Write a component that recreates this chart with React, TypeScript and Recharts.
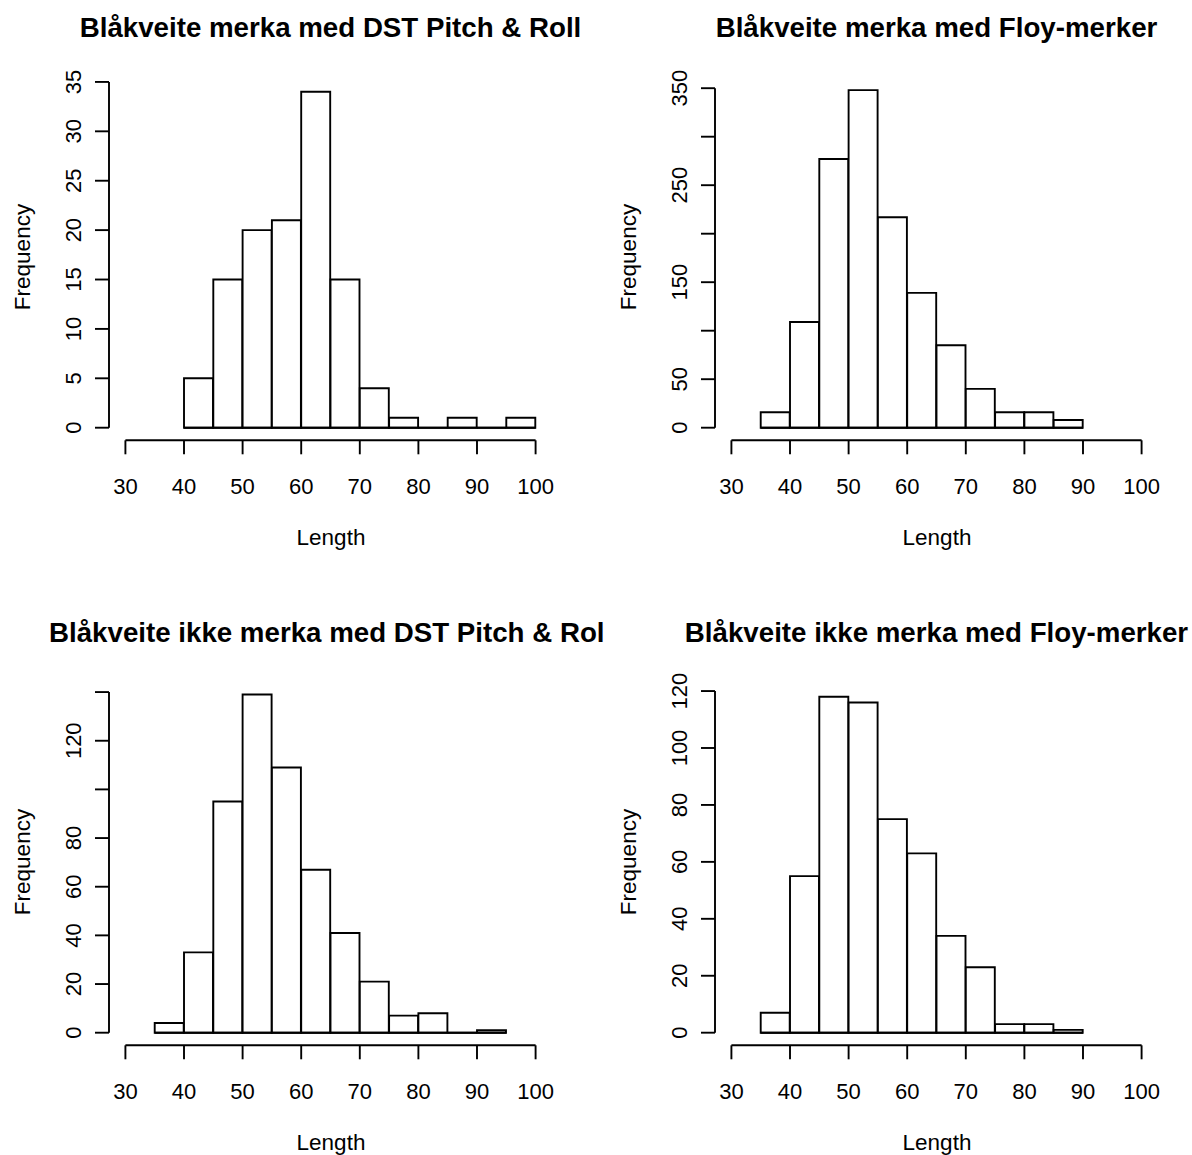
import React from 'react';
import { ComposedChart, Bar, XAxis, YAxis, ReferenceLine } from 'recharts';

// bin starts (5 units wide) and counts
const binWidth = 5;

const p1Starts = [40, 45, 50, 55, 60, 65, 70, 75, 80, 85, 90, 95];
const p1Counts = [5, 15, 20, 21, 34, 15, 4, 1, 0, 1, 0, 1];

const p2Starts = [35, 40, 45, 50, 55, 60, 65, 70, 75, 80, 85];
const p2Counts = [16, 109, 277, 348, 217, 139, 85, 40, 16, 16, 8];

const p3Starts = [35, 40, 45, 50, 55, 60, 65, 70, 75, 80, 85, 90];
const p3Counts = [4, 33, 95, 139, 109, 67, 41, 21, 7, 8, 0, 1];

const p4Starts = [35, 40, 45, 50, 55, 60, 65, 70, 75, 80, 85];
const p4Counts = [7, 55, 118, 116, 75, 63, 34, 23, 3, 3, 1];

const xTicks = [30, 40, 50, 60, 70, 80, 90, 100];

const p1YTicks = [0, 5, 10, 15, 20, 25, 30, 35];
const p1YLabels = [0, 5, 10, 15, 20, 25, 30, 35];
const p2YTicks = [0, 50, 100, 150, 200, 250, 300, 350];
const p2YLabels = [0, 50, 150, 250, 350];
const p3YTicks = [0, 20, 40, 60, 80, 100, 120, 140];
const p3YLabels = [0, 20, 40, 60, 80, 120];
const p4YTicks = [0, 20, 40, 60, 80, 100, 120];
const p4YLabels = [0, 20, 40, 60, 80, 100, 120];

const FONT = '"Liberation Sans", Arial, Helvetica, sans-serif';
const LW = 1.9;
const PW = 606;
const PH = 605;
const X_DOMAIN: [number, number] = [27.2, 102.8];

const HistBar = (props: any) => {
  const { x, y, width, height } = props;
  if (x == null || y == null) return <g />;
  return (
    <path
      d={`M${x},${y + height}V${y}H${x + width}V${y + height}Z`}
      fill="#fff"
      stroke="#000"
      strokeWidth={LW}
    />
  );
};

type PanelProps = {
  title: string;
  titleStart?: number;
  starts: number[];
  counts: number[];
  yTicks: number[];
  yLabels: number[];
  yDomain: [number, number];
  left: number;
  top: number;
};

const Panel = ({ title, titleStart, starts, counts, yTicks, yLabels, yDomain, left, top }: PanelProps) => {
  const data = starts.map((s, i) => ({ mid: s + binWidth / 2, count: counts[i] }));
  const lastEdge = starts[starts.length - 1] + binWidth;

  const xTick = (p: any) => (
    <text x={p.x} y={p.y + 40} textAnchor="middle" fontSize={22} fontFamily={FONT} fill="#000">
      {p.payload.value}
    </text>
  );

  const yTick = (p: any) => {
    if (!yLabels.includes(p.payload.value)) return <g />;
    return (
      <text
        x={p.x}
        y={p.y}
        transform={`rotate(-90, ${p.x}, ${p.y})`}
        textAnchor="middle"
        fontSize={22}
        fontFamily={FONT}
        fill="#000"
      >
        {p.payload.value}
      </text>
    );
  };

  return (
    <div style={{ position: 'absolute', left, top, width: PW, height: PH }}>
      <ComposedChart
        width={PW}
        height={PH}
        data={data}
        margin={{ top: 60, right: 54, bottom: 163.7, left: 108 }}
        barCategoryGap={0}
        barGap={0}
      >
        <XAxis
          type="number"
          dataKey="mid"
          domain={X_DOMAIN}
          allowDataOverflow
          ticks={xTicks}
          interval={0}
          height={1}
          axisLine={false}
          tickSize={14}
          tickMargin={0}
          tickLine={{ stroke: '#000', strokeWidth: LW }}
          tick={xTick}
        />
        <YAxis
          type="number"
          domain={yDomain}
          allowDataOverflow
          ticks={yTicks}
          interval={0}
          width={1}
          axisLine={false}
          tickSize={14}
          tickMargin={14}
          tickLine={{ stroke: '#000', strokeWidth: LW }}
          tick={yTick}
        />
        <Bar dataKey="count" shape={HistBar} isAnimationActive={false} />
        <ReferenceLine
          segment={[{ x: starts[0], y: 0 }, { x: lastEdge, y: 0 }]}
          stroke="#000"
          strokeWidth={LW}
          ifOverflow="visible"
        />
        <ReferenceLine
          segment={[{ x: xTicks[0], y: yDomain[0] }, { x: xTicks[xTicks.length - 1], y: yDomain[0] }]}
          stroke="#000"
          strokeWidth={LW}
          ifOverflow="visible"
        />
        <ReferenceLine
          segment={[{ x: X_DOMAIN[0], y: yTicks[0] }, { x: X_DOMAIN[0], y: yTicks[yTicks.length - 1] }]}
          stroke="#000"
          strokeWidth={LW}
          ifOverflow="visible"
        />
      </ComposedChart>
      <svg
        width={PW}
        height={PH}
        style={{ position: 'absolute', left: 0, top: 0, pointerEvents: 'none' }}
      >
        <text
          x={titleStart ?? 330.5}
          y={37}
          textAnchor={titleStart != null ? 'start' : 'middle'}
          fontSize={27.7}
          fontWeight="bold"
          fontFamily={FONT}
          fill="#000"
        >
          {title}
        </text>
        <text x={331} y={545} textAnchor="middle" fontSize={22.5} fontFamily={FONT} fill="#000">
          Length
        </text>
        <text
          x={29.5}
          y={257}
          transform="rotate(-90, 29.5, 257)"
          textAnchor="middle"
          fontSize={22.5}
          fontFamily={FONT}
          fill="#000"
        >
          Frequency
        </text>
      </svg>
    </div>
  );
};

export default function App() {
  return (
    <div
      style={{
        position: 'absolute',
        left: 0,
        top: 0,
        width: 1192,
        height: 1155,
        overflow: 'hidden',
        background: '#fff',
      }}
    >
      <Panel
        title="Blåkveite merka med DST Pitch & Roll"
        starts={p1Starts}
        counts={p1Counts}
        yTicks={p1YTicks}
        yLabels={p1YLabels}
        yDomain={[-1.275, 37.22]}
        left={0}
        top={0}
      />
      <Panel
        title="Blåkveite merka med Floy-merker"
        starts={p2Starts}
        counts={p2Counts}
        yTicks={p2YTicks}
        yLabels={p2YLabels}
        yDomain={[-12.99, 379.07]}
        left={606}
        top={0}
      />
      <Panel
        title="Blåkveite ikke merka med DST Pitch & Rol"
        titleStart={49}
        starts={p3Starts}
        counts={p3Counts}
        yTicks={p3YTicks}
        yLabels={p3YLabels}
        yDomain={[-5.18, 151.13]}
        left={0}
        top={605}
      />
      <Panel
        title="Blåkveite ikke merka med Floy-merker"
        starts={p4Starts}
        counts={p4Counts}
        yTicks={p4YTicks}
        yLabels={p4YLabels}
        yDomain={[-4.43, 129.15]}
        left={606}
        top={605}
      />
    </div>
  );
}
